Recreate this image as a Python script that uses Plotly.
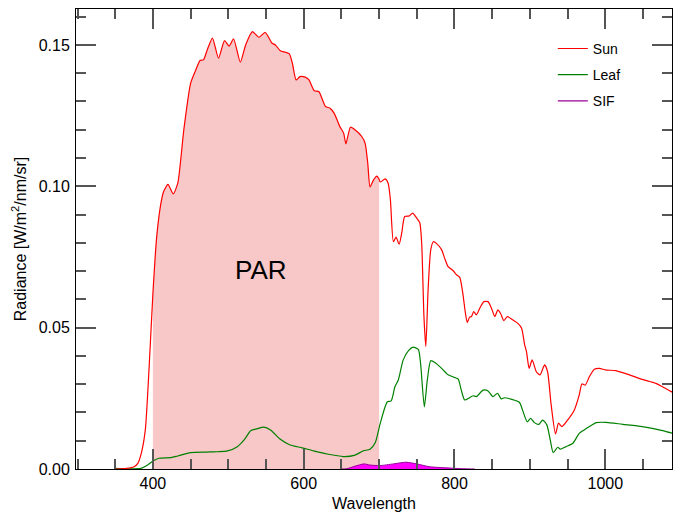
import plotly.graph_objects as go

sun_wl = [350, 365, 375, 380, 385, 390, 395, 400, 405, 410, 414, 420, 427, 433, 441, 450, 457, 462.5, 467, 472,
          479, 487, 495, 501, 507, 516, 523, 532, 540.5, 549, 558, 562.5, 569, 576, 581, 585, 590, 595, 602, 607,
          614, 620, 629, 635, 640.5, 648, 653, 656, 662, 668, 677, 681.5, 685, 688, 692.5, 697, 700, 701.5, 708, 712,
          715, 719, 722.5, 726.5, 730, 734, 740, 744.5, 750, 754, 756.5, 759.5, 762, 765, 768.5, 772, 776, 783, 787, 791.5,
          798, 803, 807, 811, 814.5, 817, 820, 822.5, 825.5, 829, 834.5, 839, 844.5, 849, 853.5, 857.5, 861, 865.5, 870, 877.5,
          884, 889, 893, 895.5, 899, 903, 908.5, 913.5, 919.5, 923.5, 928, 934, 938, 942.5, 950, 959, 965.5, 969,
          973.5, 979, 985.5, 992, 1001, 1014, 1032, 1049, 1067, 1080, 1090]
sun_val = [0.0, 0.0002, 0.0008, 0.002, 0.006, 0.014, 0.036, 0.062, 0.082, 0.093, 0.098, 0.1007, 0.0973, 0.1011, 0.120, 0.1364, 0.1412, 0.1445, 0.1447, 0.1482,
           0.1524, 0.1453, 0.1515, 0.1496, 0.1521, 0.1439, 0.150, 0.1547, 0.1527, 0.1544, 0.1506, 0.150, 0.1479, 0.1474, 0.1468, 0.1435, 0.1376, 0.1388, 0.1386, 0.1376,
           0.1338, 0.1335, 0.1282, 0.1276, 0.1258, 0.1211, 0.1188, 0.115, 0.1209, 0.120, 0.1176, 0.1152, 0.1081, 0.0998, 0.1022, 0.1036, 0.1025, 0.1015, 0.1026, 0.1011,
           0.0952, 0.0804, 0.082, 0.0795, 0.0834, 0.0893, 0.0895, 0.0905, 0.0887, 0.0871, 0.0798, 0.0539, 0.0433, 0.0633, 0.0775, 0.0804, 0.0798, 0.0775, 0.0745, 0.0716,
           0.0702, 0.0686, 0.0678, 0.0622, 0.0551, 0.0518, 0.0537, 0.0539, 0.0557, 0.0545, 0.0574, 0.0592, 0.0592, 0.0569, 0.0539, 0.0563, 0.0551, 0.0525, 0.0539, 0.0527,
           0.0515, 0.0498, 0.044, 0.0415, 0.0356, 0.0386, 0.0344, 0.0333, 0.0368, 0.0344, 0.0232, 0.0124, 0.0162, 0.015, 0.0173, 0.0209, 0.0262, 0.0301,
           0.0297, 0.0327, 0.0353, 0.0356, 0.035, 0.0348, 0.0333, 0.0317, 0.0303, 0.0285, 0.0270]

leaf_wl = [350, 384, 393, 400, 408, 424, 433, 450, 472, 486, 499, 512, 521, 530, 538, 547, 556, 569, 582, 598,
           613, 631, 653, 667, 679, 688, 695, 701, 708, 711, 716, 721, 725.5, 732, 739, 745, 752, 755, 760, 764,
           768.5, 774, 783, 791.5, 800, 805, 809, 813.5, 820, 824.5, 829, 838, 844.5, 851, 857, 862, 866.5, 875, 886, 891,
           896.5, 901, 906, 912, 917, 922.5, 927, 931, 937, 940.5, 948, 957, 965.5, 972, 979, 988, 1001, 1023, 1049, 1076, 1090]
leaf_val = [0.0002, 0.0002, 0.0014, 0.0028, 0.0038, 0.004, 0.0046, 0.0058, 0.006, 0.0061, 0.0064, 0.0079, 0.0103, 0.0136, 0.0142, 0.0148, 0.0138, 0.0105, 0.0085, 0.0075,
            0.0064, 0.0053, 0.0044, 0.0048, 0.0064, 0.0070, 0.0094, 0.0156, 0.022, 0.0238, 0.0241, 0.0291, 0.0315, 0.0386, 0.0419, 0.0431, 0.0423, 0.0374, 0.022, 0.0315,
            0.0383, 0.0377, 0.0356, 0.0333, 0.0324, 0.0318, 0.0279, 0.0244, 0.0252, 0.0259, 0.0256, 0.0279, 0.0276, 0.0256, 0.0268, 0.0248, 0.0252, 0.0247, 0.0236, 0.0203,
            0.0167, 0.0179, 0.0164, 0.0158, 0.0173, 0.0156, 0.0103, 0.0058, 0.0077, 0.007, 0.0079, 0.0091, 0.0126, 0.0138, 0.015, 0.0164, 0.0165, 0.0158, 0.015, 0.0136, 0.0126]

sif_wl = [650, 657, 668, 680, 688, 701, 719, 736, 750, 767, 790, 810, 827]
sif_val = [0.0, 0.0001, 0.0010, 0.0018, 0.0014, 0.0012, 0.0018, 0.0024, 0.0018, 0.0008, 0.0004, 0.0001, 0.0]

par_range = [400, 700]

par_x = [w for w in sun_wl if par_range[0] <= w <= par_range[1]]
par_y = [v for w, v in zip(sun_wl, sun_val) if par_range[0] <= w <= par_range[1]]

FONT = "Liberation Sans, Arial, sans-serif"

fig = go.Figure()
fig.add_trace(go.Scatter(x=par_x, y=par_y, mode="lines", line=dict(width=0, shape="spline", smoothing=0.6),
                         fill="tozeroy", fillcolor="#f8c7c7", showlegend=False, hoverinfo="skip"))
fig.add_trace(go.Scatter(x=sif_wl, y=sif_val, mode="lines", name="SIF",
                         line=dict(color="#990099", width=1, shape="spline", smoothing=0.6),
                         fill="tozeroy", fillcolor="#ff00ff", showlegend=False))
# legend entry for SIF drawn as a plain line
fig.add_trace(go.Scatter(x=[None], y=[None], mode="lines", name="SIF",
                         line=dict(color="#990099", width=1.2), legendgroup="c", legendrank=3))
fig.add_trace(go.Scatter(x=leaf_wl, y=leaf_val, mode="lines", name="Leaf",
                         line=dict(color="#008000", width=1.2, shape="spline", smoothing=0.6),
                         legendgroup="b", legendrank=2))
fig.add_trace(go.Scatter(x=sun_wl, y=sun_val, mode="lines", name="Sun",
                         line=dict(color="#ff0000", width=1.2, shape="spline", smoothing=0.6),
                         legendgroup="a", legendrank=1))

fig.add_annotation(x=544, y=0.0705, text="PAR", showarrow=False,
                   font=dict(family=FONT, size=26, color="black"))

axis_common = dict(showline=True, linecolor="black", linewidth=1, mirror="allticks",
                   ticks="inside", tickcolor="#555555", tickwidth=1.5, ticklen=20,
                   showgrid=False, zeroline=False,
                   tickfont=dict(family=FONT, size=16, color="black"))

fig.update_xaxes(range=[298, 1088.5], dtick=200, tick0=0,
                 minor=dict(ticks="inside", ticklen=10, dtick=50, tick0=0, tickcolor="#555555", tickwidth=1.5),
                 title=dict(text="Wavelength", font=dict(family=FONT, size=16, color="black"), standoff=6),
                 **axis_common)
fig.update_yaxes(range=[0, 0.1627], dtick=0.05, tick0=0, tickformat=".2f", ticklabelstandoff=2,
                 minor=dict(ticks="inside", ticklen=10, dtick=0.01, tick0=0, tickcolor="#555555", tickwidth=1.5),
                 title=dict(text="Radiance [W/m<sup>2</sup>/nm/sr]", font=dict(family=FONT, size=16, color="black"), standoff=8),
                 **axis_common)

fig.update_layout(width=673, height=513, margin=dict(l=76, r=1, t=9, b=44),
                  plot_bgcolor="white", paper_bgcolor="white",
                  legend=dict(x=0.8, y=0.948, xanchor="left", yanchor="top", bgcolor="rgba(0,0,0,0)",
                              font=dict(family=FONT, size=14, color="black"), traceorder="grouped",
                              tracegroupgap=5))

fig.write_html("out.html")
